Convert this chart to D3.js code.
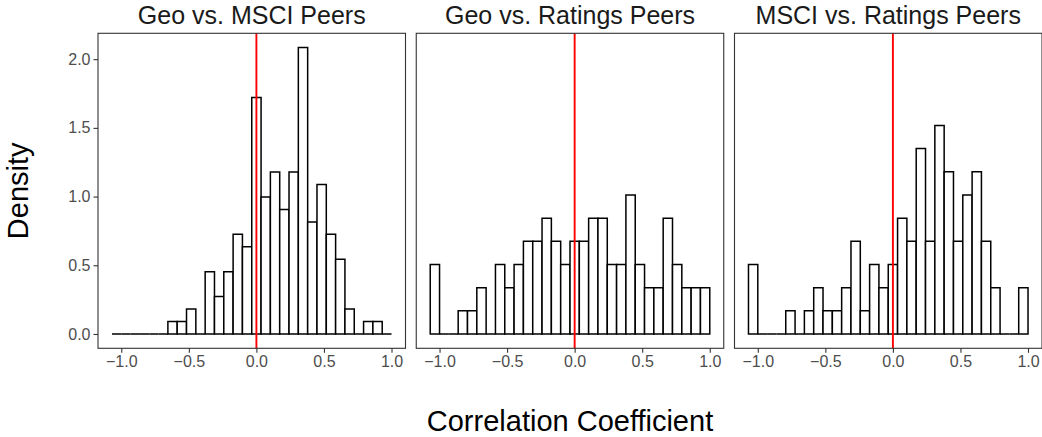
<!DOCTYPE html>
<html>
<head>
<meta charset="utf-8">
<script src="https://cdn.jsdelivr.net/npm/d3@7"></script>
<style>
  html, body { margin: 0; padding: 0; background: #fff; }
  svg { display: block; font-family: "Liberation Sans", Arial, sans-serif; }
</style>
</head>
<body>
<svg id="chart" width="1042" height="437"></svg>
<script>
// ---- data ----
const panelTitles = ["Geo vs. MSCI Peers", "Geo vs. Ratings Peers", "MSCI vs. Ratings Peers"];
// histogram: 30 bins, first bin centred at -1.0345, bin width 0.06897
const binCount = 30;
const binFirstCenter = -1.0345;
const binWidth = 0.06897;
// densities, one per bin
const densGeoMSCI = [0, 0, 0, 0, 0, 0, 0.091, 0.091, 0.181, 0,
                     0.453, 0.272, 0.453, 0.725, 0.634, 1.721, 0.997, 1.178, 0.906, 1.178,
                     2.084, 0.815, 1.087, 0.725, 0.544, 0.181, 0, 0.091, 0.091, 0];
const densGeoRatings = [0.506, 0, 0, 0.169, 0.169, 0.337, 0, 0.506, 0.337, 0.506,
                        0.674, 0.674, 0.843, 0.674, 0.506, 0.674, 0.674, 0.843, 0.843, 0.506,
                        0.506, 1.012, 0.506, 0.337, 0.337, 0.843, 0.506, 0.337, 0.337, 0.337];
const densMSCIRatings = [0.506, 0, 0, 0, 0.169, 0, 0.169, 0.337, 0.169, 0.169,
                         0.337, 0.674, 0.169, 0.506, 0.337, 0.506, 0.843, 0.674, 1.349, 0.674,
                         1.517, 1.180, 0.674, 1.012, 1.180, 0.674, 0.337, 0, 0, 0.337];
const seriesList = [densGeoMSCI, densGeoRatings, densMSCIRatings];
const xTicks = [-1.0, -0.5, 0.0, 0.5, 1.0];
const yTicks = [0.0, 0.5, 1.0, 1.5, 2.0];
const refLineX = 0;
const xTitle = "Correlation Coefficient";
const yTitle = "Density";

// ---- layout ----
const svg = d3.select("#chart");
const panelTop = 33.3, panelBottom = 348.3;
const panelLeft0 = 98, panelW = 307.5, panelGap = 10.75;

const binStart = binFirstCenter - binWidth / 2;
const binEnd = binStart + binCount * binWidth;
const xPad = (binEnd - binStart) * 0.05;
const yMax = d3.max(seriesList.flat());
const yPad = yMax * 0.05;

const y = d3.scaleLinear().domain([-yPad, yMax + yPad]).range([panelBottom, panelTop]);

seriesList.forEach((vals, p) => {
  const left = panelLeft0 + p * (panelW + panelGap);
  const x = d3.scaleLinear().domain([binStart - xPad, binEnd + xPad]).range([left, left + panelW]);
  const g = svg.append("g");

  const bins = vals.map((v, i) => ({x0: binStart + i * binWidth, x1: binStart + (i + 1) * binWidth, v}));
  g.selectAll("path.bar").data(bins).join("path")
    .attr("class", "bar")
    .attr("d", d => {
      const x0 = x(d.x0), x1 = x(d.x1), y0 = y(0), y1 = y(d.v);
      return `M${x0},${y0}V${y1}H${x1}V${y0}Z`;
    })
    .attr("fill", "#fff")
    .attr("stroke", "#000")
    .attr("stroke-width", 1.5);

  g.append("line")
    .attr("x1", x(refLineX)).attr("x2", x(refLineX))
    .attr("y1", panelTop).attr("y2", panelBottom)
    .attr("stroke", "#ff0000").attr("stroke-width", 1.9);

  // panel border
  g.append("rect")
    .attr("x", left).attr("y", panelTop)
    .attr("width", panelW).attr("height", panelBottom - panelTop)
    .attr("fill", "none").attr("stroke", "#333").attr("stroke-width", 1.1);

  // x axis
  const xa = g.append("g").attr("transform", `translate(0,${panelBottom})`)
    .call(d3.axisBottom(x).tickValues(xTicks).tickSize(4.5).tickPadding(3)
      .tickFormat(d => d3.format(".1f")(d).replace("-", "\u2212")));
  xa.select(".domain").remove();
  xa.selectAll("line").attr("stroke", "#333").attr("stroke-width", 1.1);
  xa.selectAll("text").attr("fill", "#4d4d4d").attr("font-size", 16)
    .attr("font-family", "Liberation Sans, Arial, sans-serif");

  // title
  svg.append("text")
    .attr("x", left + panelW / 2).attr("y", 23.5)
    .attr("text-anchor", "middle")
    .attr("font-size", 25).attr("fill", "#1a1a1a")
    .text(panelTitles[p]);

  if (p === 0) {
    const ya = g.append("g").attr("transform", `translate(${left},0)`)
      .call(d3.axisLeft(y).tickValues(yTicks).tickSize(4.5).tickPadding(3)
        .tickFormat(d3.format(".1f")));
    ya.select(".domain").remove();
    ya.selectAll("line").attr("stroke", "#333").attr("stroke-width", 1.1);
    ya.selectAll("text").attr("fill", "#4d4d4d").attr("font-size", 16)
      .attr("font-family", "Liberation Sans, Arial, sans-serif");
  }
});

// axis titles
const plotCenterX = (panelLeft0 + panelLeft0 + 3 * panelW + 2 * panelGap) / 2;
svg.append("text")
  .attr("x", plotCenterX).attr("y", 431)
  .attr("text-anchor", "middle").attr("font-size", 29).attr("fill", "#000")
  .text(xTitle);
svg.append("text")
  .attr("transform", `translate(28,${(panelTop + panelBottom) / 2}) rotate(-90)`)
  .attr("text-anchor", "middle").attr("font-size", 29).attr("fill", "#000")
  .text(yTitle);
</script>
</body>
</html>
